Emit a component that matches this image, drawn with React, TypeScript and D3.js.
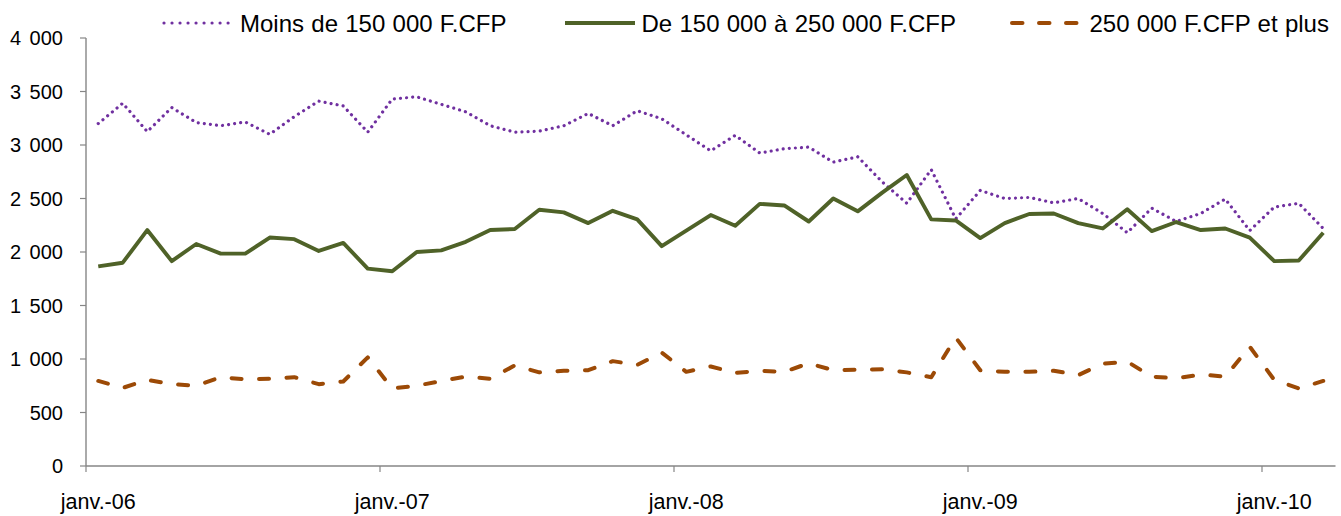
import React from "react";
import * as d3 from "d3";

// ---- Data (monthly, janv.-06 .. mars-10) ----
const yearTickIndex = [0, 12, 24, 36, 48];
const yearTickLabels = ["janv.-06", "janv.-07", "janv.-08", "janv.-09", "janv.-10"];
const yTicks = [0, 500, 1000, 1500, 2000, 2500, 3000, 3500, 4000];

const seriesNames = [
  "Moins de 150 000 F.CFP",
  "De 150 000 à 250 000 F.CFP",
  "250 000 F.CFP et plus",
];

const moins150 = [
  3200, 3390, 3125, 3350, 3210, 3180, 3215, 3100, 3265, 3410,
  3365, 3120, 3430, 3450, 3380, 3310, 3180, 3120, 3130, 3180,
  3295, 3180, 3320, 3245, 3095, 2945, 3090, 2925, 2965, 2980,
  2840, 2890, 2655, 2455, 2770, 2310, 2575, 2500, 2510, 2460,
  2500, 2360, 2180, 2410, 2285, 2360, 2495, 2200, 2420, 2455,
  2220,
];

const de150a250 = [
  1865, 1900, 2205, 1915, 2075, 1985, 1985, 2135, 2120, 2010,
  2085, 1845, 1820, 2000, 2015, 2095, 2205, 2215, 2395, 2370,
  2270, 2385, 2305, 2055, 2200, 2345, 2245, 2450, 2435, 2285,
  2500, 2380, 2555, 2720, 2305, 2295, 2130, 2270, 2355, 2360,
  2270, 2220, 2400, 2195, 2280, 2205, 2220, 2135, 1915, 1920,
  2180,
];

const plus250 = [
  795, 730, 805, 765, 750, 830, 810, 815, 830, 765,
  790, 1015, 725, 750, 795, 835, 815, 940, 875, 890,
  895, 980, 945, 1060, 880, 930, 870, 890, 880, 960,
  895, 900, 905, 875, 830, 1200, 895, 880, 880, 890,
  850, 955, 975, 835, 820, 855, 835, 1115, 805, 725,
  795,
];

const W = 1341;
const H = 516;
const FONT = "'Liberation Sans', Arial, sans-serif";
const AXIS = "#868686";

const styles = [
  { color: "#7030A0", width: 3.2, dash: "0.01 6.1", legendDash: "0.01 8", cap: "round" },
  { color: "#4F6228", width: 3.9, dash: "none", legendDash: "none", cap: "butt" },
  { color: "#9C4A06", width: 4, dash: "10 17.5", legendDash: "10.5 16.5", cap: "round" },
];

export default function App() {
  const n = moins150.length;
  const x = d3.scaleLinear().domain([0, n]).range([86, 1335.5]);
  const y = d3.scaleLinear().domain([0, 4000]).range([466, 38]);
  const fmt = d3.formatLocale({ decimal: ",", thousands: " ", grouping: [3], currency: ["", ""] }).format(",d");

  const line = d3
    .line<number>()
    .x((_, i) => x(i + 0.5))
    .y((d) => y(d));

  const all = [moins150, de150a250, plus250];

  const legendItems = [
    { x1: 164, x2: 229, tx: 240 },
    { x1: 565, x2: 635, tx: 641.5 },
    { x1: 1012, x2: 1083, tx: 1089.5 },
  ];

  return (
    <svg
      width={W}
      height={H}
      style={{ position: "absolute", left: 0, top: 0, background: "#fff" }}
      fontFamily={FONT}
    >
      {/* Y axis */}
      <line x1={x(0)} x2={x(0)} y1={y(4000)} y2={y(0)} stroke={AXIS} strokeWidth={1.4} />
      {yTicks.map((t) => (
        <g key={t}>
          <line x1={x(0) - 6} x2={x(0)} y1={y(t)} y2={y(t)} stroke={AXIS} strokeWidth={1.2} />
          <text
            x={63}
            y={y(t) + 7}
            textAnchor="end"
            fontSize={20}
            wordSpacing={3}
            fill="#000"
          >
            {fmt(t)}
          </text>
        </g>
      ))}
      {/* X axis */}
      <line x1={x(0)} x2={x(n)} y1={y(0)} y2={y(0)} stroke={AXIS} strokeWidth={1.4} />
      {yearTickIndex.map((idx, k) => (
        <g key={idx}>
          <line x1={x(idx)} x2={x(idx)} y1={y(0)} y2={y(0) + 6} stroke={AXIS} strokeWidth={1.2} />
          <text x={x(idx + 0.5)} y={508.5} textAnchor="middle" fontSize={21.5} fill="#000">
            {yearTickLabels[k]}
          </text>
        </g>
      ))}

      {/* Series */}
      {all.map((data, s) => (
        <path
          key={s}
          d={line(data) || ""}
          fill="none"
          stroke={styles[s].color}
          strokeWidth={styles[s].width}
          strokeDasharray={styles[s].dash}
          strokeLinecap={styles[s].cap as any}
          strokeLinejoin="round"
        />
      ))}

      {/* Legend */}
      {legendItems.map((it, s) => (
        <g key={s}>
          <line
            x1={it.x1}
            x2={it.x2}
            y1={23}
            y2={23}
            stroke={styles[s].color}
            strokeWidth={styles[s].width}
            strokeDasharray={styles[s].legendDash}
            strokeLinecap={styles[s].cap as any}
          />
          <text x={it.tx} y={31.5} fontSize={24} wordSpacing={0.6} fill="#000">
            {seriesNames[s]}
          </text>
        </g>
      ))}
    </svg>
  );
}
